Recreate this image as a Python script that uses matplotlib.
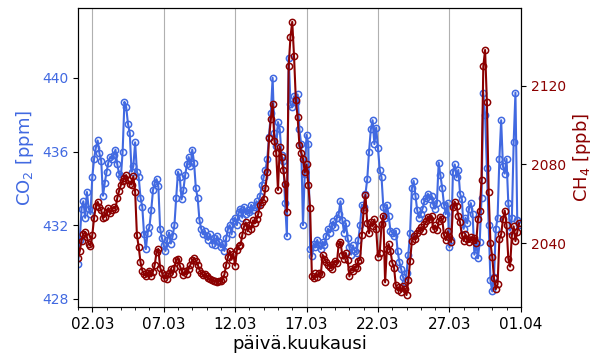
import matplotlib
matplotlib.use("Agg")
import matplotlib.pyplot as plt
import matplotlib.dates as mdates
import pandas as pd

# 3-hourly samples starting 01.03 00:00
start_time = "2023-03-01 00:00"
step = "3h"

co2_ppm = [
    429.9, 431.2, 432.9, 433.3, 432.4, 433.8, 432.9, 432.6,
    434.6, 435.6, 436.2, 436.6, 435.9, 435.5, 433.6, 434.3,
    434.9, 435.4, 435.7, 435.6, 435.8, 436.1, 435.3, 434.8,
    434.6, 436.0, 438.7, 438.4, 437.5, 437.0, 434.9, 435.2,
    436.5, 434.9, 434.6, 433.5, 433.0, 431.5, 430.7, 431.6,
    431.9, 432.8, 433.9, 434.3, 434.5, 434.1, 431.8, 431.3,
    430.9, 430.6, 431.2, 431.6, 431.0, 431.4, 432.0, 433.5,
    434.9, 434.6, 433.4, 433.9, 434.7, 435.3, 435.7, 435.2,
    436.1, 435.4, 434.0, 433.5, 432.3, 431.8, 431.5, 431.7,
    431.4, 431.2, 431.5, 431.0, 431.3, 430.9, 431.4, 431.1,
    430.8, 431.0, 430.6, 431.3, 431.8, 432.0, 431.5, 432.2,
    432.4, 432.0, 432.7, 432.9, 432.4, 433.0, 432.6, 432.8,
    432.7, 433.1, 432.8, 433.0, 433.3, 433.1, 433.6, 434.2,
    434.6, 435.0, 435.6, 436.8, 438.1, 440.0, 437.0, 436.3,
    437.6, 437.2, 435.8, 435.5, 433.2, 431.4, 441.1, 438.6,
    438.4, 439.0, 438.7, 439.1, 437.2, 436.4, 432.0, 434.8,
    436.9, 436.4, 430.7, 430.3, 431.0, 430.8, 431.2, 430.9,
    430.7, 431.1, 430.9, 431.4, 431.8, 431.6, 432.0, 432.2,
    431.9, 432.4, 432.6, 433.3, 432.3, 431.6, 432.1, 431.3,
    430.8, 430.4, 430.9, 430.6, 430.5, 431.2, 432.0, 433.1,
    433.0, 433.7, 434.5, 436.0, 437.2, 437.7, 436.4, 437.3,
    436.2, 435.0, 434.6, 433.0, 432.4, 433.1, 432.5, 431.7,
    431.6, 431.4, 431.7, 430.6, 430.0, 429.6, 429.2, 428.9,
    429.4, 430.4, 431.6, 434.0, 434.4, 433.6, 432.8, 432.4,
    432.6, 432.9, 433.3, 433.5, 433.7, 433.4, 433.6, 433.1,
    432.9, 433.2, 435.4, 434.7, 434.0, 433.1, 432.6, 433.2,
    430.8, 431.2, 434.9, 435.3, 434.6, 435.0, 433.7, 433.4,
    431.8, 432.4, 432.1, 432.9, 433.2, 432.6, 430.4, 431.1,
    430.2, 431.1, 433.5, 439.2, 438.0, 435.1, 432.0, 429.0,
    428.4, 429.2, 431.8, 432.4, 435.6, 437.7, 435.2, 434.8,
    435.6, 433.2, 431.7, 432.4, 436.5, 439.2, 432.3, 432.0,
]

ch4_ppb = [
    2032.5, 2036.0, 2041.2, 2044.5, 2045.6, 2043.0, 2039.5, 2038.6,
    2044.0, 2052.7, 2059.0, 2061.0, 2058.5, 2056.7, 2052.7, 2053.5,
    2056.0, 2057.8, 2055.2, 2057.0, 2058.2, 2057.5, 2063.0, 2066.5,
    2069.5, 2071.5, 2073.2, 2074.6, 2072.0, 2070.0, 2069.8, 2074.0,
    2066.0, 2044.0, 2038.0, 2030.3, 2026.0, 2024.0, 2023.2, 2024.5,
    2026.0, 2023.0, 2025.5, 2029.0, 2035.5, 2037.0, 2027.5, 2025.0,
    2022.0, 2023.5, 2021.8, 2024.5, 2026.8, 2024.0, 2027.5, 2031.5,
    2032.0, 2028.5, 2026.0, 2023.5, 2025.8, 2024.2, 2027.0, 2029.0,
    2031.2, 2032.4, 2031.0, 2029.0, 2026.5, 2024.8, 2023.5, 2024.2,
    2023.0, 2022.2, 2021.6, 2021.0, 2020.5, 2020.8, 2020.2, 2020.6,
    2020.5, 2021.5, 2024.0, 2029.0, 2033.0, 2036.0, 2031.5, 2034.5,
    2028.5, 2036.5, 2038.5, 2039.0, 2044.0, 2048.5, 2050.5, 2046.0,
    2049.0, 2047.0, 2051.5, 2050.0, 2052.0, 2055.0, 2059.5, 2061.0,
    2062.5, 2068.0, 2076.0, 2093.5, 2103.0, 2111.0, 2092.0, 2086.0,
    2067.0, 2089.0, 2084.0, 2077.0, 2070.0, 2056.0, 2130.0, 2145.0,
    2152.6, 2135.0, 2113.0, 2104.0, 2090.0, 2086.0, 2083.0, 2076.0,
    2080.0, 2069.5, 2058.0, 2023.0, 2022.0, 2024.5, 2022.5, 2025.0,
    2024.0, 2034.0, 2032.0, 2030.5, 2029.0, 2028.0, 2027.0, 2029.5,
    2031.0, 2030.0, 2039.5, 2040.5, 2034.0, 2032.0, 2035.0, 2031.5,
    2023.0, 2027.0, 2026.0, 2028.0, 2027.5, 2031.0, 2031.5, 2044.0,
    2057.0, 2064.5, 2050.0, 2045.0, 2050.5, 2048.5, 2052.0, 2047.0,
    2033.0, 2035.0, 2049.5, 2054.0, 2020.0, 2037.0, 2039.5, 2036.0,
    2030.0, 2027.5, 2018.5, 2016.0, 2017.5, 2015.2, 2018.0, 2016.5,
    2013.5, 2021.0, 2031.0, 2041.0, 2043.5, 2042.0, 2045.0, 2046.5,
    2048.0, 2046.0, 2049.5, 2051.0, 2053.5, 2052.0, 2054.0, 2047.0,
    2049.0, 2046.5, 2051.0, 2053.5, 2052.0, 2044.0, 2041.5, 2046.0,
    2043.0, 2040.5, 2058.5, 2061.0, 2059.0, 2054.0, 2050.5, 2044.0,
    2041.0, 2044.5, 2042.0, 2040.5, 2043.0, 2041.5, 2042.5, 2040.0,
    2052.0, 2056.5, 2072.0, 2130.0, 2138.3, 2112.0, 2066.0, 2040.0,
    2033.0, 2022.0, 2016.5, 2019.0, 2042.0, 2044.5, 2052.0, 2056.5,
    2049.0, 2032.0, 2028.0, 2044.0, 2048.5, 2041.0, 2045.5, 2050.0,
]

tick_dates = ["2023-03-02", "2023-03-07", "2023-03-12", "2023-03-17",
              "2023-03-22", "2023-03-27", "2023-04-01"]
co2_ticks = [428, 432, 436, 440]
ch4_ticks = [2040, 2080, 2120]

times = pd.date_range(start_time, periods=len(co2_ppm), freq=step)

co2_color = "#4169E1"
ch4_color = "#8B0000"

fig = plt.figure(figsize=(6, 3.6), dpi=100)
ax1 = fig.add_axes([0.13, 0.147, 0.738, 0.831])
ax2 = ax1.twinx()

ax1.plot(times, co2_ppm, color=co2_color, marker="o", markersize=4.5,
         markerfacecolor="none", markeredgewidth=1.1, linewidth=1.5)
ax2.plot(times, ch4_ppb, color=ch4_color, marker="o", markersize=4.5,
         markerfacecolor="none", markeredgewidth=1.1, linewidth=1.5)

ax1.set_xlim(pd.Timestamp("2023-03-01"), pd.Timestamp("2023-04-01"))
ax1.set_ylim(427.55, 443.8)
ax2.set_ylim(2007.4, 2159.7)

ax1.xaxis.set_major_locator(matplotlib.ticker.FixedLocator(
    [mdates.date2num(pd.Timestamp(d)) for d in tick_dates]))
ax1.xaxis.set_major_formatter(mdates.DateFormatter("%d.%m"))
ax1.xaxis.set_minor_locator(mdates.DayLocator())
ax1.grid(axis="x", color="#b0b0b0", linewidth=0.8)

ax1.set_yticks(co2_ticks)
ax2.set_yticks(ch4_ticks)

ax1.tick_params(axis="x", labelsize=11)
ax1.tick_params(axis="y", labelsize=10, labelcolor=co2_color)
ax2.tick_params(axis="y", labelsize=10, labelcolor=ch4_color)

ax1.set_xlabel("päivä.kuukausi", fontsize=13, labelpad=2)
ax1.set_ylabel("CO$_2$ [ppm]", fontsize=13, color=co2_color)
ax2.set_ylabel("CH$_4$ [ppb]", fontsize=13, color=ch4_color)

fig.savefig("out.png", dpi=100)
